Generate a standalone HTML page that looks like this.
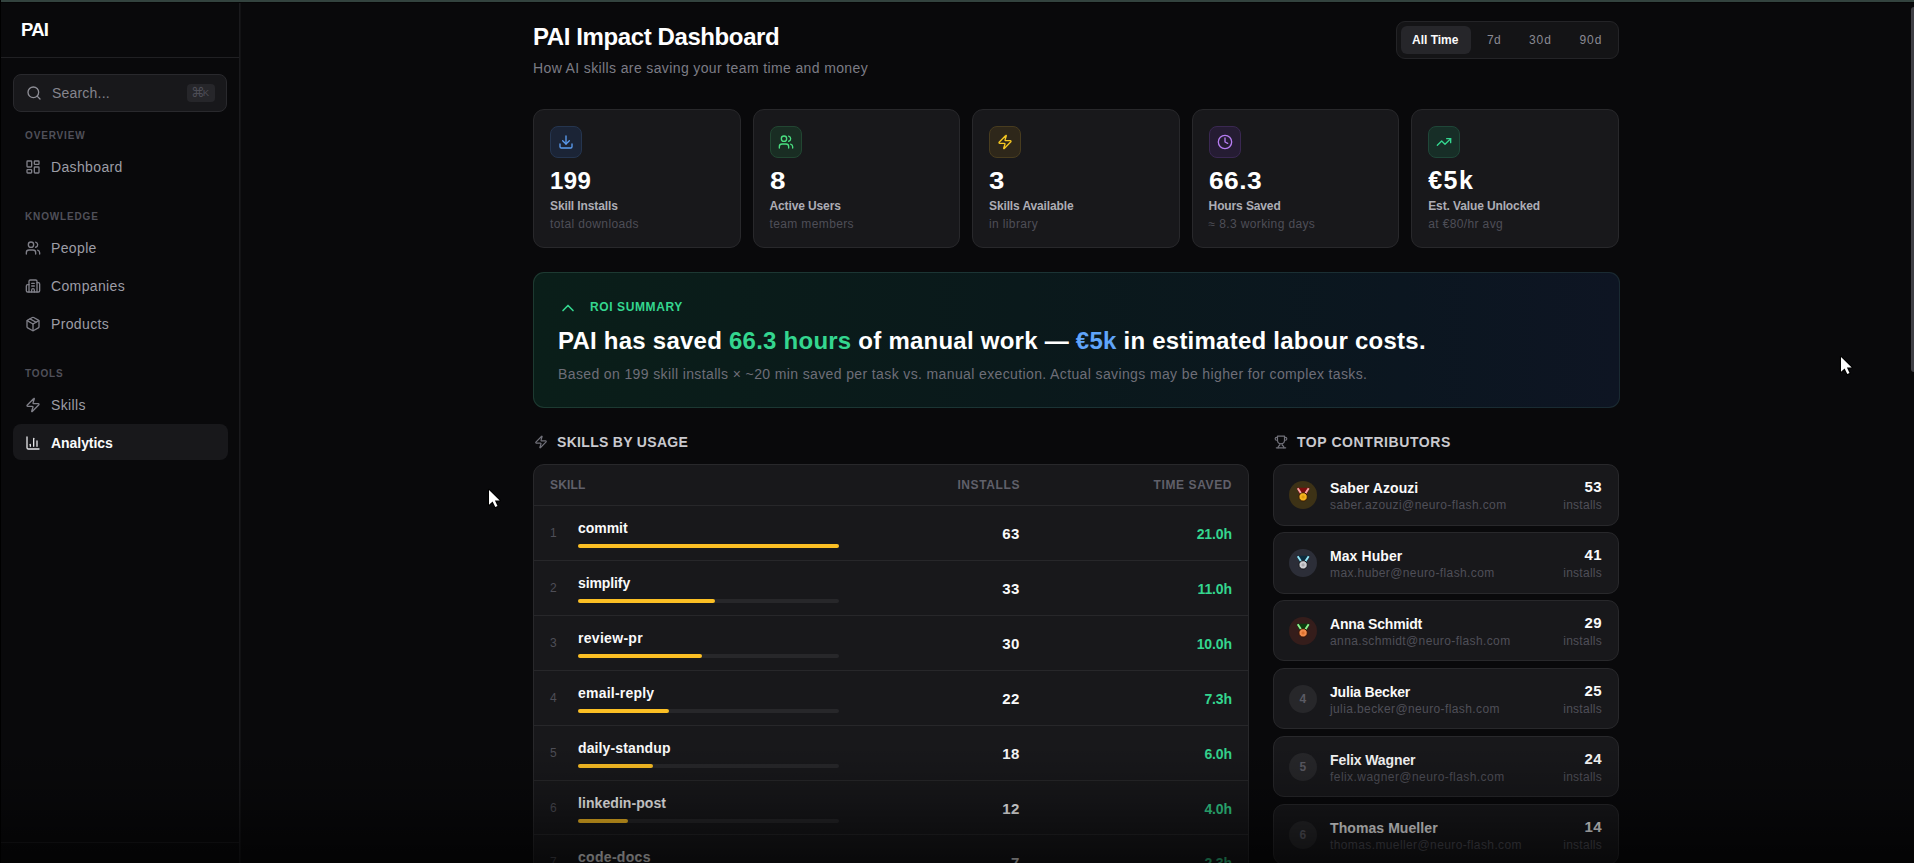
<!DOCTYPE html>
<html lang="en">
<head>
<meta charset="utf-8">
<title>PAI Impact Dashboard</title>
<style>
*{box-sizing:border-box;margin:0;padding:0}
html,body{width:1914px;height:863px;overflow:hidden;background:#09090b}
body{position:relative;font-family:"Liberation Sans",Arial,sans-serif;color:#fafafa;-webkit-font-smoothing:antialiased}
svg{display:block}
.ic{fill:none;stroke:currentColor;stroke-width:2;stroke-linecap:round;stroke-linejoin:round}
.abs{position:absolute}
.t{position:absolute;white-space:nowrap;line-height:1}

/* chrome strips */
#topstrip{position:absolute;left:1px;top:0;width:1913px;height:2px;background:#33433f}
#topblack{position:absolute;left:0;top:2px;width:1914px;height:1px;background:#050506}
#leftblack{position:absolute;left:0;top:0;width:1px;height:863px;background:#000}
#scroll{position:absolute;left:1911px;top:7px;width:4px;height:365px;background:#3f3f45;border-radius:3px 0 0 3px}

/* sidebar */
#side{position:absolute;left:1px;top:3px;width:238px;height:860px;background:#09090b}
#sideb{position:absolute;left:239px;top:3px;width:2px;height:860px;background:linear-gradient(90deg,#1a1a1d 0,#1a1a1d 50%,#121214 50%,#121214 100%)}
#side .hdr{position:absolute;left:0;top:0;width:238px;height:55px;border-bottom:1px solid #202023}
#side .foot{position:absolute;left:0;top:839px;width:238px;height:1px;background:#18181b}
#search{position:absolute;left:12px;top:71px;width:214.3px;height:37.5px;border:1px solid #29292d;border-radius:8px;background:#18181b}
.kbd{position:absolute;left:173px;top:9px;width:27.5px;height:18px;border-radius:4px;background:#26262a}
.sec{position:absolute;left:24px;font-size:10px;font-weight:700;letter-spacing:.85px;color:#505059;line-height:1;white-space:nowrap}
.nav{position:absolute;left:12px;width:215px;height:36px;border-radius:8px;color:#9d9da6}
.nav svg{position:absolute;left:12px;top:10.5px;width:16px;height:16px;color:#7f7f88}
.nav span{position:absolute;left:38px;top:11px;font-size:14px;letter-spacing:.36px;line-height:16px;white-space:nowrap}
.nav.on{background:#18181b;color:#fafafa}
.nav.on span{font-weight:700;letter-spacing:-.05px}
.nav.on svg{color:#e4e4e7}

/* main */
.card{position:absolute;background:#18181b;border:1px solid #28282b;border-radius:11px}
.ibox{position:absolute;left:16px;top:15.5px;width:32px;height:32px;border-radius:8px;border:1px solid}
.ibox svg{position:absolute;left:7px;top:7px;width:16px;height:16px}
.val{left:16px;top:59px;font-size:24px;font-weight:700;color:#fff;letter-spacing:.4px}
.lbl{left:16px;top:90px;font-size:12px;font-weight:700;color:#adadb5;letter-spacing:-.12px}
.sub{left:16px;top:108px;font-size:12px;color:#4e4e57;letter-spacing:.37px}

.th{font-size:12px;font-weight:700;letter-spacing:.6px;color:#60606a}
.row{position:absolute;left:0;width:714px;height:55px;border-top:1px solid #27272a}
.rn{left:16px;top:21px;font-size:12px;color:#4e4e57}
.nm{left:44px;top:15px;font-size:14px;font-weight:700;color:#fafafa;letter-spacing:-.03px}
.bar{position:absolute;left:44px;top:38px;width:260.5px;height:4px;border-radius:2px;background:#27272a}
.bar i{position:absolute;left:0;top:0;height:4px;border-radius:2px;background:#fbbf24}
.ins{right:228px;top:20px;font-size:15px;font-weight:700;color:#fafafa;letter-spacing:.55px}
.ts{right:16px;top:21px;font-size:14px;font-weight:700;color:#34d68f;letter-spacing:-.1px}
.pc{width:346.5px;height:61.5px}
.av{position:absolute;left:15.3px;top:16px;width:28px;height:28px;border-radius:50%;overflow:hidden}
.pn{left:56.5px;top:16px;font-size:14px;font-weight:700;color:#fafafa;letter-spacing:.08px}
.pe{left:56.5px;top:34px;font-size:12px;color:#4f4f58;letter-spacing:.39px}
.pv{right:16px;top:14px;font-size:15px;font-weight:700;color:#fafafa;letter-spacing:.4px}
.pi{right:16px;top:34px;font-size:12px;color:#4f4f58;letter-spacing:.26px}

#fade{position:absolute;left:0;top:745px;width:1914px;height:118px;background:linear-gradient(to bottom,rgba(0,0,0,0) 0%,rgba(0,0,0,.2) 45%,rgba(0,0,0,.62) 100%);pointer-events:none}
</style>
</head>
<body>

<!-- SIDEBAR -->
<div id="side">
  <div class="hdr"><div class="t" style="left:20px;top:18px;font-size:18.5px;font-weight:700;color:#fff;letter-spacing:-.75px">PAI</div></div>
  <div id="search">
    <svg class="ic abs" style="left:12px;top:10px;width:16px;height:16px;color:#8e8e96" viewBox="0 0 24 24"><circle cx="11" cy="11" r="8"/><path d="m21 21-4.3-4.3"/></svg>
    <div class="t" style="left:38px;top:11px;font-size:14px;letter-spacing:.2px;color:#85858e">Search...</div>
    <div class="kbd"><div class="t" style="left:4px;top:2px;font-size:13.5px;font-family:'DejaVu Sans',sans-serif;color:#4d4d56">⌘</div><div class="t" style="left:15.8px;top:4px;font-size:9.5px;color:#4d4d56">K</div></div>
  </div>
  <div class="sec" style="top:128px">OVERVIEW</div>
  <div class="nav" style="top:145px"><svg class="ic" viewBox="0 0 24 24"><rect x="3" y="3" width="7" height="9" rx="1"/><rect x="14" y="3" width="7" height="5" rx="1"/><rect x="14" y="12" width="7" height="9" rx="1"/><rect x="3" y="16" width="7" height="5" rx="1"/></svg><span>Dashboard</span></div>
  <div class="sec" style="top:209px">KNOWLEDGE</div>
  <div class="nav" style="top:226px"><svg class="ic" viewBox="0 0 24 24"><path d="M16 21v-2a4 4 0 0 0-4-4H6a4 4 0 0 0-4 4v2"/><circle cx="9" cy="7" r="4"/><path d="M22 21v-2a4 4 0 0 0-3-3.87"/><path d="M16 3.13a4 4 0 0 1 0 7.75"/></svg><span>People</span></div>
  <div class="nav" style="top:264px"><svg class="ic" viewBox="0 0 24 24"><path d="M10 12h4"/><path d="M10 8h4"/><path d="M14 21v-3a2 2 0 0 0-4 0v3"/><path d="M6 10H4a2 2 0 0 0-2 2v7a2 2 0 0 0 2 2h16a2 2 0 0 0 2-2V9a2 2 0 0 0-2-2h-2"/><path d="M6 21V5a2 2 0 0 1 2-2h8a2 2 0 0 1 2 2v16"/></svg><span>Companies</span></div>
  <div class="nav" style="top:302px"><svg class="ic" viewBox="0 0 24 24"><path d="m7.5 4.27 9 5.15"/><path d="M21 8a2 2 0 0 0-1-1.73l-7-4a2 2 0 0 0-2 0l-7 4A2 2 0 0 0 3 8v8a2 2 0 0 0 1 1.73l7 4a2 2 0 0 0 2 0l7-4A2 2 0 0 0 21 16Z"/><path d="m3.3 7 8.7 5 8.7-5"/><path d="M12 22V12"/></svg><span>Products</span></div>
  <div class="sec" style="top:366px">TOOLS</div>
  <div class="nav" style="top:383px"><svg class="ic" viewBox="0 0 24 24"><path d="M4 14a1 1 0 0 1-.78-1.63l9.9-10.2a.5.5 0 0 1 .86.46l-1.92 6.02A1 1 0 0 0 13 10h7a1 1 0 0 1 .78 1.63l-9.9 10.2a.5.5 0 0 1-.86-.46l1.92-6.02A1 1 0 0 0 11 14z"/></svg><span>Skills</span></div>
  <div class="nav on" style="top:421px"><svg class="ic" viewBox="0 0 24 24"><path d="M3 3v16a2 2 0 0 0 2 2h16"/><path d="M18 17V9"/><path d="M13 17V5"/><path d="M8 17v-3"/></svg><span>Analytics</span></div>
  <div class="foot"></div>
</div>

<!-- HEADER -->
<div class="t" style="left:533px;top:25px;font-size:24px;font-weight:700;color:#fff;letter-spacing:-.4px">PAI Impact Dashboard</div>
<div class="t" style="left:533px;top:61px;font-size:14px;letter-spacing:.375px;color:#7c7c85">How AI skills are saving your team time and money</div>


<!-- TIME FILTER -->
<div class="abs" style="left:1396px;top:21px;width:223px;height:38px;border:1px solid #242427;border-radius:9px;background:#141416">
  <div class="abs" style="left:4px;top:4px;width:70px;height:28px;border-radius:6px;background:#26262a"></div>
  <div class="t" style="left:15px;top:12px;font-size:12px;font-weight:700;color:#fafafa">All Time</div>
  <div class="t" style="left:90px;top:12px;font-size:12px;letter-spacing:.4px;color:#8a8a93">7d</div>
  <div class="t" style="left:132px;top:12px;font-size:12px;letter-spacing:.9px;color:#8a8a93">30d</div>
  <div class="t" style="left:182.5px;top:12px;font-size:12px;letter-spacing:.9px;color:#8a8a93">90d</div>
</div>

<!-- STAT CARDS -->
<div class="card" style="left:533px;top:109px;width:207.6px;height:139px">
  <div class="ibox" style="background:#1b2436;border-color:#25354f;color:#5b9cf0"><svg class="ic" viewBox="0 0 24 24"><path d="M21 15v4a2 2 0 0 1-2 2H5a2 2 0 0 1-2-2v-4"/><path d="m7 10 5 5 5-5"/><path d="M12 15V3"/></svg></div>
  <div class="t val">199</div><div class="t lbl">Skill Installs</div><div class="t sub">total downloads</div>
</div>
<div class="card" style="left:752.5px;top:109px;width:207.6px;height:139px">
  <div class="ibox" style="background:#192d23;border-color:#224632;color:#4ade80"><svg class="ic" viewBox="0 0 24 24"><path d="M16 21v-2a4 4 0 0 0-4-4H6a4 4 0 0 0-4 4v2"/><circle cx="9" cy="7" r="4"/><path d="M22 21v-2a4 4 0 0 0-3-3.87"/><path d="M16 3.13a4 4 0 0 1 0 7.75"/></svg></div>
  <div class="t val" style="transform:scaleX(1.16);transform-origin:0 0">8</div><div class="t lbl">Active Users</div><div class="t sub">team members</div>
</div>
<div class="card" style="left:972px;top:109px;width:207.6px;height:139px">
  <div class="ibox" style="background:#2e271a;border-color:#483c1f;color:#f5c722"><svg class="ic" viewBox="0 0 24 24"><path d="M4 14a1 1 0 0 1-.78-1.63l9.9-10.2a.5.5 0 0 1 .86.46l-1.92 6.02A1 1 0 0 0 13 10h7a1 1 0 0 1 .78 1.63l-9.9 10.2a.5.5 0 0 1-.86-.46l1.92-6.02A1 1 0 0 0 11 14z"/></svg></div>
  <div class="t val" style="transform:scaleX(1.15);transform-origin:0 0">3</div><div class="t lbl">Skills Available</div><div class="t sub">in library</div>
</div>
<div class="card" style="left:1191.6px;top:109px;width:207.6px;height:139px">
  <div class="ibox" style="background:#251c33;border-color:#3a2852;color:#b67df2"><svg class="ic" viewBox="0 0 24 24"><circle cx="12" cy="12" r="10"/><polyline points="12 6 12 12 16 14"/></svg></div>
  <div class="t val" style="transform:scaleX(1.1);transform-origin:0 0">66.3</div><div class="t lbl">Hours Saved</div><div class="t sub">≈ 8.3 working days</div>
</div>
<div class="card" style="left:1411.2px;top:109px;width:207.8px;height:139px">
  <div class="ibox" style="background:#172e27;border-color:#1f4638;color:#34d68f"><svg class="ic" viewBox="0 0 24 24"><polyline points="22 7 13.5 15.5 8.5 10.5 2 17"/><polyline points="16 7 22 7 22 13"/></svg></div>
  <div class="t val" style="letter-spacing:1.5px;font-size:25px;top:58px">€5k</div><div class="t lbl">Est. Value Unlocked</div><div class="t sub">at €80/hr avg</div>
</div>

<!-- ROI -->
<div class="abs" style="left:533px;top:272.2px;width:1086.5px;height:135.6px;border-radius:11px;background:linear-gradient(90deg,#1d3a31 0%,#1b3335 50%,#1a2a32 100%)"></div>
<div class="abs" style="left:533px;top:272.2px;width:1086.5px;height:135.6px;border-radius:11px;border:1px solid transparent;background:linear-gradient(90deg,#0a1e19 0%,#0a191b 45%,#0b1620 80%,#0e1523 100%) padding-box">
  <svg class="ic abs" style="left:23.75px;top:24.8px;width:20px;height:20px;color:#34d68f" viewBox="0 0 24 24"><path d="m18 15-6-6-6 6"/></svg>
  <div class="t" style="left:56px;top:28px;font-size:12px;font-weight:700;color:#34d68f;letter-spacing:.6px">ROI SUMMARY</div>
  <div class="t" style="left:24px;top:56px;font-size:24px;font-weight:700;color:#fff;letter-spacing:.24px">PAI has saved <span style="color:#34d68f">66.3 hours</span> of manual work — <span style="color:#60a5fa">€5k</span> in estimated labour costs.</div>
  <div class="t" style="left:24px;top:94px;font-size:14px;letter-spacing:.377px;color:#6e6e78">Based on 199 skill installs × ~20 min saved per task vs. manual execution. Actual savings may be higher for complex tasks.</div>
</div>


<!-- SKILLS BY USAGE -->
<svg class="ic abs" style="left:534px;top:435.3px;width:14px;height:14px;color:#71717a" viewBox="0 0 24 24"><path d="M4 14a1 1 0 0 1-.78-1.63l9.9-10.2a.5.5 0 0 1 .86.46l-1.92 6.02A1 1 0 0 0 13 10h7a1 1 0 0 1 .78 1.63l-9.9 10.2a.5.5 0 0 1-.86-.46l1.92-6.02A1 1 0 0 0 11 14z"/></svg>
<div class="t" style="left:557px;top:435px;font-size:14px;font-weight:700;color:#c9c9cf;letter-spacing:.31px">SKILLS BY USAGE</div>
<div class="abs" id="tbl" style="left:533px;top:464.25px;width:716px;height:420px;border:1px solid #28282b;border-radius:11px;background:#18181b;overflow:hidden">
  <div class="t th" style="left:16px;top:14px;letter-spacing:.15px">SKILL</div>
  <div class="t th" style="right:228px;top:14px">INSTALLS</div>
  <div class="t th" style="right:16px;top:14px">TIME SAVED</div>
  <div class="row" style="top:40.0px"><div class="t rn">1</div><div class="t nm">commit</div><div class="bar"><i style="width:261.0px"></i></div><div class="t ins">63</div><div class="t ts">21.0h</div></div>
  <div class="row" style="top:94.85px"><div class="t rn">2</div><div class="t nm" style="letter-spacing:-0.1px">simplify</div><div class="bar"><i style="width:136.7px"></i></div><div class="t ins">33</div><div class="t ts">11.0h</div></div>
  <div class="row" style="top:149.7px"><div class="t rn">3</div><div class="t nm" style="letter-spacing:0.3px">review-pr</div><div class="bar"><i style="width:124.3px"></i></div><div class="t ins">30</div><div class="t ts">10.0h</div></div>
  <div class="row" style="top:204.55px"><div class="t rn">4</div><div class="t nm" style="letter-spacing:0.22px">email-reply</div><div class="bar"><i style="width:91.1px"></i></div><div class="t ins">22</div><div class="t ts">7.3h</div></div>
  <div class="row" style="top:259.4px"><div class="t rn">5</div><div class="t nm" style="letter-spacing:0.12px">daily-standup</div><div class="bar"><i style="width:74.6px"></i></div><div class="t ins">18</div><div class="t ts">6.0h</div></div>
  <div class="row" style="top:314.25px"><div class="t rn">6</div><div class="t nm" style="letter-spacing:0.07px">linkedin-post</div><div class="bar"><i style="width:49.7px"></i></div><div class="t ins">12</div><div class="t ts">4.0h</div></div>
  <div class="row" style="top:369.1px"><div class="t rn">7</div><div class="t nm" style="letter-spacing:0.3px">code-docs</div><div class="bar"><i style="width:29.0px"></i></div><div class="t ins">7</div><div class="t ts">2.3h</div></div>
</div>

<!-- TOP CONTRIBUTORS -->
<svg class="ic abs" style="left:1274px;top:435px;width:14px;height:14px;color:#71717a" viewBox="0 0 24 24"><path d="M6 9H4.5a2.5 2.5 0 0 1 0-5H6"/><path d="M18 9h1.5a2.5 2.5 0 0 0 0-5H18"/><path d="M4 22h16"/><path d="M10 14.66V17c0 .55-.47.98-.97 1.21C7.85 18.75 7 20.24 7 22"/><path d="M14 14.66V17c0 .55.47.98.97 1.21C16.15 18.75 17 20.24 17 22"/><path d="M18 2H6v7a6 6 0 0 0 12 0V2Z"/></svg>
<div class="t" style="left:1297px;top:435px;font-size:14px;font-weight:700;color:#c9c9cf;letter-spacing:.57px">TOP CONTRIBUTORS</div>
<div class="card pc" style="left:1272.5px;top:464.25px"><div class="av" style="background:#3d3216"><svg viewBox="0 0 28 28" width="28" height="28"><path d="M7.6 6.7h13.2l-2.9 6.2h-7.4z" fill="#7d0c0d"/><path d="M8.7 7.3l4.2 6.3M19.7 7.3l-4.2 6.3" stroke="#f6a6a6" stroke-width="1.9" fill="none"/><circle cx="14.1" cy="15.9" r="4.2" fill="#f4b41f" stroke="#3c1c05" stroke-width="1"/><circle cx="14.1" cy="15.9" r="1.6" fill="#dc9a0e"/></svg></div><div class="t pn">Saber Azouzi</div><div class="t pe">saber.azouzi@neuro-flash.com</div><div class="t pv">53</div><div class="t pi">installs</div></div>
<div class="card pc" style="left:1272.5px;top:532.1px"><div class="av" style="background:#2c2e38"><svg viewBox="0 0 28 28" width="28" height="28"><path d="M7.6 6.7h13.2l-2.9 6.2h-7.4z" fill="#0c2c3e"/><path d="M8.7 7.3l4.2 6.3M19.7 7.3l-4.2 6.3" stroke="#93e4f6" stroke-width="1.9" fill="none"/><circle cx="14.1" cy="15.9" r="4.2" fill="#cfcfd2" stroke="#17181c" stroke-width="1"/><circle cx="14.1" cy="15.9" r="1.6" fill="#a9a9ad"/></svg></div><div class="t pn">Max Huber</div><div class="t pe">max.huber@neuro-flash.com</div><div class="t pv">41</div><div class="t pi">installs</div></div>
<div class="card pc" style="left:1272.5px;top:599.95px"><div class="av" style="background:#351d1b"><svg viewBox="0 0 28 28" width="28" height="28"><path d="M7.6 6.7h13.2l-2.9 6.2h-7.4z" fill="#0b3d0d"/><path d="M8.7 7.3l4.2 6.3M19.7 7.3l-4.2 6.3" stroke="#8ff08f" stroke-width="1.9" fill="none"/><circle cx="14.1" cy="15.9" r="4.2" fill="#f28b4c" stroke="#3a1404" stroke-width="1"/><circle cx="14.1" cy="15.9" r="1.6" fill="#dd6f2e"/></svg></div><div class="t pn" style="letter-spacing:-0.17px">Anna Schmidt</div><div class="t pe">anna.schmidt@neuro-flash.com</div><div class="t pv">29</div><div class="t pi">installs</div></div>
<div class="card pc" style="left:1272.5px;top:667.8px"><div class="av" style="background:#27272a"><div class="t" style="left:0;width:28px;text-align:center;top:8px;font-size:12px;font-weight:700;color:#5b5b64">4</div></div><div class="t pn" style="letter-spacing:-0.2px">Julia Becker</div><div class="t pe">julia.becker@neuro-flash.com</div><div class="t pv">25</div><div class="t pi">installs</div></div>
<div class="card pc" style="left:1272.5px;top:735.65px"><div class="av" style="background:#27272a"><div class="t" style="left:0;width:28px;text-align:center;top:8px;font-size:12px;font-weight:700;color:#5b5b64">5</div></div><div class="t pn" style="letter-spacing:-0.1px">Felix Wagner</div><div class="t pe" style="letter-spacing:.44px">felix.wagner@neuro-flash.com</div><div class="t pv">24</div><div class="t pi">installs</div></div>
<div class="card pc" style="left:1272.5px;top:803.5px"><div class="av" style="background:#27272a"><div class="t" style="left:0;width:28px;text-align:center;top:8px;font-size:12px;font-weight:700;color:#5b5b64">6</div></div><div class="t pn">Thomas Mueller</div><div class="t pe">thomas.mueller@neuro-flash.com</div><div class="t pv">14</div><div class="t pi">installs</div></div>

<!-- CURSORS -->
<svg class="abs" style="left:1837.8px;top:353.5px" width="18" height="24" viewBox="-3 -3 18 24"><path d="M0 0V14.8L3.6 11.4 6.3 17.1 8.5 16.1 5.9 10.5H10.7Z" fill="#fff" stroke="#000" stroke-width="2.2" stroke-linejoin="round" paint-order="stroke"/></svg>
<svg class="abs" style="left:485.8px;top:487.4px" width="18" height="24" viewBox="-3 -3 18 24"><path d="M0 0V14.8L3.6 11.4 6.3 17.1 8.5 16.1 5.9 10.5H10.7Z" fill="#fff" stroke="#000" stroke-width="2.2" stroke-linejoin="round" paint-order="stroke"/></svg>
<div id="sideb"></div>
<div id="fade"></div>
<div id="topstrip"></div><div id="topblack"></div><div id="leftblack"></div><div id="scroll"></div>
</body>
</html>
